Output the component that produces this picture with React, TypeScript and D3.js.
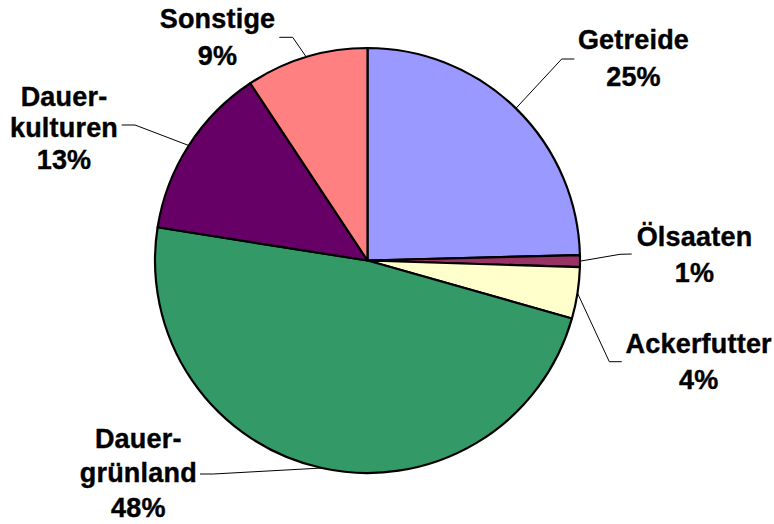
import React from "react";
import * as d3 from "d3";

const categories = ["Getreide", "Ölsaaten", "Ackerfutter", "Dauergrünland", "Dauerkulturen", "Sonstige"];
const values = [24.6, 0.9, 3.9, 48.1, 13.2, 9.3];
const percentLabels = ["25%", "1%", "4%", "48%", "13%", "9%"];
const labelLines = [["Getreide"], ["Ölsaaten"], ["Ackerfutter"], ["Dauer-", "grünland"], ["Dauer-", "kulturen"], ["Sonstige"]];
const colors = ["#9999FF", "#993366", "#FFFFCC", "#339966", "#660066", "#FF8080"];

// layout for labels: text centre x, baselines, elbow and horizontal end of leader
const labelLayout = [
  { x: 633.5, ys: [49, 86], elbow: [561.7, 59], end: [574.3, 59] },
  { x: 694.5, ys: [246, 282], elbow: [620, 254.3], end: [631.7, 254] },
  { x: 698.7, ys: [353, 389], elbow: [609.3, 361.7], end: [621.7, 361.7] },
  { x: 138.3, ys: [447.5, 482, 517], elbow: [213.3, 474], end: [200, 474] },
  { x: 64, ys: [105.7, 137, 169], elbow: [135, 125], end: [121.7, 125] },
  { x: 217.5, ys: [28.3, 65], elbow: [292.7, 37.3], end: [279.3, 37.3] },
];

const W = 774, H = 524;
const cx = 367.5, cy = 260.5, R = 212.5;

export default function App() {
  const pie = d3.pie<number>().sort(null).value((d) => d)(values);
  const arc = d3.arc<d3.PieArcDatum<number>>().innerRadius(0).outerRadius(R);
  return (
    <svg width={W} height={H} style={{ position: "absolute", left: 0, top: 0, background: "#fff" }}
      fontFamily="'Liberation Sans', Arial, sans-serif" fontWeight="bold">
      <g transform={`translate(${cx},${cy})`}>
        {pie.map((p, i) => (
          <path key={i} d={arc(p) || ""} fill={colors[i]} stroke="#000" strokeWidth={2.2} strokeLinejoin="round" />
        ))}
      </g>
      {pie.map((p, i) => {
        const a = (p.startAngle + p.endAngle) / 2;
        const sx = cx + R * Math.sin(a), sy = cy - R * Math.cos(a);
        const L = labelLayout[i];
        const lines = [...labelLines[i], percentLabels[i]];
        return (
          <g key={"l" + i}>
            <polyline points={`${sx},${sy} ${L.elbow[0]},${L.elbow[1]} ${L.end[0]},${L.end[1]}`}
              fill="none" stroke="#000" strokeWidth={1} />
            {lines.map((t, j) => (
              <text key={j} x={L.x} y={L.ys[j]} textAnchor="middle" fontSize={27} letterSpacing={0.2}
                fill="#000" stroke="#000" strokeWidth={0.4}>{t}</text>
            ))}
          </g>
        );
      })}
    </svg>
  );
}
